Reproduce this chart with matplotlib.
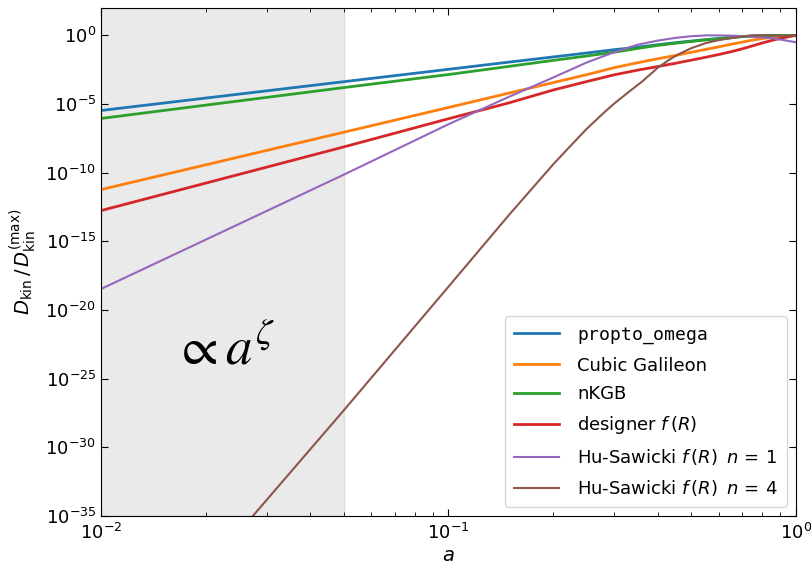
import numpy as np
import matplotlib
matplotlib.use("Agg")
import matplotlib.pyplot as plt

plt.rcParams["font.family"] = ["DejaVu Sans"]
plt.rcParams["mathtext.fontset"] = "dejavusans"

# scale factor samples
a_vals = [0.01, 0.05, 0.1, 0.15, 0.2, 0.25, 0.3, 0.35, 0.4, 0.45, 0.5,
          0.55, 0.6, 0.65, 0.7, 0.75, 0.8, 0.85, 0.9, 0.95, 1.0]

# log10 of D_kin / D_kin^(max) at each sample
log_propto_omega = [-5.47, -3.37, -2.47, -1.94, -1.57, -1.28, -1.04, -0.86, -0.68,
                    -0.53, -0.41, -0.31, -0.22, -0.14, -0.08, -0.04, -0.02, -0.01,
                    0.0, 0.0, 0.0]
log_cubic_galileon = [-11.23, -7.05, -5.25, -4.19, -3.44, -2.86, -2.35, -1.99, -1.70,
                      -1.46, -1.23, -1.02, -0.83, -0.65, -0.49, -0.34, -0.23, -0.14,
                      -0.07, -0.02, 0.0]
log_nkgb = [-6.05, -3.80, -2.85, -2.25, -1.82, -1.50, -1.22, -0.95, -0.73,
            -0.57, -0.44, -0.33, -0.24, -0.16, -0.09, -0.05, -0.02, -0.01,
            0.0, 0.0, 0.0]
log_designer = [-12.76, -8.12, -6.07, -4.90, -3.98, -3.36, -2.87, -2.53, -2.27,
                -2.03, -1.80, -1.59, -1.39, -1.19, -0.98, -0.76, -0.55, -0.37,
                -0.22, -0.10, 0.0]
log_hs_n1 = [-18.47, -10.14, -6.47, -4.45, -3.07, -1.97, -1.22, -0.68, -0.38,
             -0.18, -0.06, 0.0, 0.0, -0.02, -0.05, -0.09, -0.14, -0.21,
             -0.30, -0.40, -0.50]
a_hs_n4 = [0.01, 0.02, 0.05, 0.1, 0.15, 0.2, 0.22, 0.25, 0.28, 0.3, 0.33, 0.36,
           0.4, 0.43, 0.46, 0.5, 0.55, 0.6, 0.65, 0.7, 0.75, 0.8, 0.9, 1.0]
log_hs_n4 = [-47.9, -39.0, -27.3, -18.3, -13.02, -9.4, -8.28, -6.80, -5.63, -4.96,
             -4.12, -3.38, -2.36, -1.80, -1.36, -0.93, -0.56, -0.34, -0.21, -0.08,
             -0.01, 0.0, -0.01, -0.03]

labels = [r"$\mathtt{propto\_omega}$", "Cubic Galileon", "nKGB",
          r"designer $f\,(R)$", r"Hu-Sawicki $f\,(R)$ $\,n\,=\,1$",
          r"Hu-Sawicki $f\,(R)$ $\,n\,=\,4$"]
colors = ["#1f77b4", "#ff7f0e", "#2ca02c", "#d62728", "#9467bd", "#8c564b"]

series = [
    (a_vals, log_propto_omega, 2.0),
    (a_vals, log_cubic_galileon, 2.0),
    (a_vals, log_nkgb, 2.0),
    (a_vals, log_designer, 2.0),
    (a_vals, log_hs_n1, 1.5),
    (a_hs_n4, log_hs_n4, 1.5),
]

fig = plt.figure(figsize=(8.11, 5.67), dpi=100)
ax = fig.add_axes([0.1245, 0.09, 0.857, 0.896])

ax.axvspan(0.01, 0.05, facecolor="#c8ccc8", alpha=0.4, edgecolor="#b8bcb8",
           linewidth=1.0, zorder=0)

for (x, ly, lw), lab, c in zip(series, labels, colors):
    ax.plot(x, 10.0 ** np.array(ly), color=c, lw=lw, label=lab)

ax.set_xscale("log")
ax.set_yscale("log")
ax.set_xlim(1e-2, 1.0)
ax.set_ylim(1e-35, 1e2)

ax.set_yticks([10.0 ** k for k in range(-35, 1, 5)])
ax.yaxis.set_minor_locator(matplotlib.ticker.NullLocator())
ax.tick_params(which="both", direction="in", top=True, right=True, labelsize=13)
ax.tick_params(which="major", length=5)
ax.tick_params(which="minor", length=3)
ax.tick_params(axis="x", which="major", pad=5)

ax.set_xlabel(r"$a$", fontsize=14, labelpad=2)
ax.set_ylabel(r"$D_{\mathrm{kin}}\,/\,D_{\mathrm{kin}}^{(\mathrm{max})}$", fontsize=14,
              labelpad=5)

ax.text(0.0227, 10.0 ** -22.9, r"$\propto a^{\zeta}$", fontsize=38,
        math_fontfamily="stix", ha="center", va="center")

ax.legend(loc="lower right", fontsize=13, handlelength=2.5, handletextpad=1.0,
          labelspacing=0.6, borderpad=0.5, framealpha=0.8)

fig.savefig("out.png", dpi=100)
